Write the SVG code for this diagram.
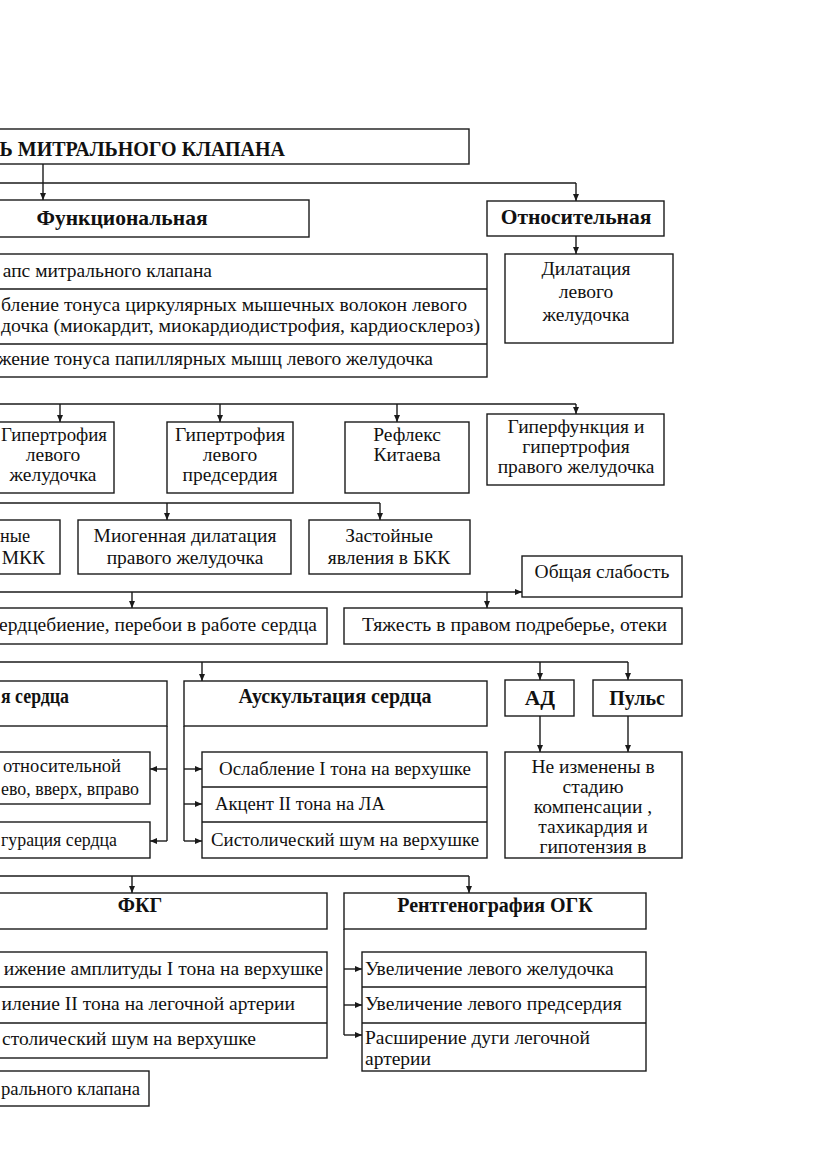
<svg xmlns="http://www.w3.org/2000/svg" width="831" height="1174" viewBox="0 0 831 1174">
<defs>
<style>
.b{fill:#fff;stroke:#1a1a1a;stroke-width:1.4}
.t{font-family:"Liberation Serif","Times New Roman",serif;font-size:19.5px;fill:#111}
.h{font-weight:bold;font-size:20px}
.hb{font-weight:bold;font-size:21.5px}
.c{text-anchor:middle}
.e{text-anchor:end}
.l{fill:none;stroke:#1a1a1a;stroke-width:1.4}
.a{marker-end:url(#ah)}
</style>
<marker id="ah" markerWidth="8" markerHeight="8" refX="7" refY="4" orient="auto" markerUnits="userSpaceOnUse"><path d="M0,1 L7,4 L0,7 z" fill="#1a1a1a"/></marker>
</defs>
<rect width="831" height="1174" fill="#fff"/>

<g id="connectors">
<path class="l a" d="M43,164 V200"/>
<path class="l" d="M0,183 H576"/>
<path class="l a" d="M576,183 V201"/>
<path class="l a" d="M576,236 V254"/>
<path class="l" d="M0,404 H576"/>
<path class="l a" d="M60,404 V422"/>
<path class="l a" d="M220,404 V422"/>
<path class="l a" d="M397,404 V422"/>
<path class="l a" d="M576,404 V414"/>
<path class="l" d="M0,503 H380"/>
<path class="l a" d="M167,503 V520"/>
<path class="l a" d="M380,503 V520"/>
<path class="l a" d="M0,592 H522"/>
<path class="l a" d="M132,592 V608"/>
<path class="l a" d="M487,592 V608"/>
<path class="l" d="M0,662 H628"/>
<path class="l a" d="M202,662 V681"/>
<path class="l a" d="M540,662 V680"/>
<path class="l a" d="M628,662 V680"/>
<path class="l" d="M167,726 V841"/>
<path class="l a" d="M167,769 H150"/>
<path class="l a" d="M167,841 H150"/>
<path class="l" d="M184,726 V841"/>
<path class="l a" d="M184,769 H202"/>
<path class="l a" d="M184,804 H202"/>
<path class="l a" d="M184,841 H202"/>
<path class="l a" d="M540,716 V752"/>
<path class="l a" d="M628,716 V752"/>
<path class="l" d="M0,876 H469"/>
<path class="l a" d="M132,876 V893"/>
<path class="l a" d="M469,876 V893"/>
<path class="l" d="M344,929 V1035"/>
<path class="l a" d="M344,969 H362"/>
<path class="l a" d="M344,1005 H362"/>
<path class="l a" d="M344,1035 H362"/>
</g>

<g id="n-top">
<rect class="b" x="-20" y="129" width="489" height="35"/>
<text class="t h e" x="285" y="156">Ь МИТРАЛЬНОГО КЛАПАНА</text>
</g>
<g id="n-func">
<rect class="b" x="-70" y="200" width="379" height="37"/>
<text class="t hb c" x="122" y="225">Функциональная</text>
</g>
<g id="n-rel">
<rect class="b" x="487" y="201" width="177" height="35"/>
<text class="t hb c" x="576" y="224">Относительная</text>
</g>
<g id="n-dil">
<rect class="b" x="505" y="254" width="168" height="89"/>
<text class="t c" x="586" y="275">Дилатация</text>
<text class="t c" x="586" y="298">левого</text>
<text class="t c" x="586" y="321">желудочка</text>
</g>
<g id="n-func-list">
<rect class="b" x="-20" y="254" width="507" height="123"/>
<path class="l" d="M-20,289 H487 M-20,344 H487"/>
<text class="t e" x="212" y="277">апс митрального клапана</text>
<text class="t" x="1" y="311" textLength="466" lengthAdjust="spacingAndGlyphs">бление тонуса циркулярных мышечных волокон левого</text>
<text class="t" x="1" y="332" textLength="479" lengthAdjust="spacingAndGlyphs">дочка (миокардит, миокардиодистрофия, кардиосклероз)</text>
<text class="t e" x="433" y="365">жение тонуса папиллярных мышц левого желудочка</text>
</g>
<g id="n-glzh">
<rect class="b" x="-12" y="422" width="126" height="71"/>
<text class="t" x="1" y="441" textLength="106" lengthAdjust="spacingAndGlyphs">Гипертрофия</text>
<text class="t c" x="53" y="461">левого</text>
<text class="t c" x="53" y="481">желудочка</text>
</g>
<g id="n-glp">
<rect class="b" x="167" y="422" width="126" height="71"/>
<text class="t c" x="230" y="441">Гипертрофия</text>
<text class="t c" x="230" y="461">левого</text>
<text class="t c" x="230" y="481">предсердия</text>
</g>
<g id="n-kitaev">
<rect class="b" x="345" y="422" width="124" height="71"/>
<text class="t c" x="407" y="441">Рефлекс</text>
<text class="t c" x="407" y="461">Китаева</text>
</g>
<g id="n-gpzh">
<rect class="b" x="487" y="414" width="177" height="71"/>
<text class="t c" x="576" y="433">Гиперфункция и</text>
<text class="t c" x="576" y="453">гипертрофия</text>
<text class="t c" x="576" y="473">правого желудочка</text>
</g>
<g id="n-mkk">
<rect class="b" x="-20" y="520" width="80" height="54"/>
<text class="t" x="0" y="542" textLength="30" lengthAdjust="spacingAndGlyphs">ные</text>
<text class="t e" x="45" y="564">МКК</text>
</g>
<g id="n-miogen">
<rect class="b" x="78" y="520" width="213" height="54"/>
<text class="t c" x="185" y="542">Миогенная дилатация</text>
<text class="t c" x="185" y="564">правого желудочка</text>
</g>
<g id="n-bkk">
<rect class="b" x="309" y="520" width="161" height="54"/>
<text class="t c" x="389" y="542">Застойные</text>
<text class="t c" x="389" y="564">явления в БКК</text>
</g>
<g id="n-weak">
<rect class="b" x="522" y="556" width="160" height="41"/>
<text class="t c" x="602" y="578">Общая слабость</text>
</g>
<g id="n-palp">
<rect class="b" x="-20" y="608" width="347" height="36"/>
<text class="t e" x="317" y="631">ердцебиение, перебои в работе сердца</text>
</g>
<g id="n-heavy">
<rect class="b" x="344" y="608" width="338" height="36"/>
<text class="t" x="362" y="631" textLength="305" lengthAdjust="spacingAndGlyphs">Тяжесть в правом подреберье, отеки</text>
</g>
<g id="n-perc">
<rect class="b" x="-20" y="681" width="187" height="45"/>
<text class="t h" x="1" y="703" textLength="68" lengthAdjust="spacingAndGlyphs">я сердца</text>
</g>
<g id="n-perc1">
<rect class="b" x="-20" y="752" width="170" height="52"/>
<text class="t" x="3" y="772" textLength="118" lengthAdjust="spacingAndGlyphs">относительной</text>
<text class="t" x="1" y="795" textLength="138" lengthAdjust="spacingAndGlyphs">ево, вверх, вправо</text>
</g>
<g id="n-perc2">
<rect class="b" x="-20" y="822" width="170" height="36"/>
<text class="t" x="1" y="846" textLength="116" lengthAdjust="spacingAndGlyphs">гурация сердца</text>
</g>
<g id="n-ausc">
<rect class="b" x="184" y="681" width="303" height="45"/>
<text class="t h c" x="335" y="703">Аускультация сердца</text>
</g>
<g id="n-ausc-list">
<rect class="b" x="202" y="752" width="285" height="106"/>
<path class="l" d="M202,787 H487 M202,822 H487"/>
<text class="t" x="219" y="775" textLength="252" lengthAdjust="spacingAndGlyphs">Ослабление I тона на верхушке</text>
<text class="t" x="215" y="810" textLength="170" lengthAdjust="spacingAndGlyphs">Акцент II тона на ЛА</text>
<text class="t" x="211" y="846" textLength="268" lengthAdjust="spacingAndGlyphs">Систолический шум на верхушке</text>
</g>
<g id="n-ad">
<rect class="b" x="505" y="680" width="69" height="36"/>
<text class="t hb c" x="540" y="705">АД</text>
</g>
<g id="n-pulse">
<rect class="b" x="593" y="680" width="89" height="36"/>
<text class="t h c" x="637" y="705">Пульс</text>
</g>
<g id="n-unchanged">
<rect class="b" x="505" y="752" width="177" height="106"/>
<text class="t c" x="593" y="773">Не изменены в</text>
<text class="t c" x="593" y="793">стадию</text>
<text class="t c" x="593" y="813">компенсации ,</text>
<text class="t c" x="593" y="833">тахикардия и</text>
<text class="t c" x="593" y="853">гипотензия в</text>
</g>
<g id="n-fkg">
<rect class="b" x="-47" y="893" width="374" height="36"/>
<text class="t h c" x="140" y="912">ФКГ</text>
</g>
<g id="n-fkg-list">
<rect class="b" x="-20" y="952" width="347" height="106"/>
<path class="l" d="M-20,987 H327 M-20,1023 H327"/>
<text class="t e" x="323" y="975">ижение амплитуды I тона на верхушке</text>
<text class="t e" x="295" y="1010">иление II тона на легочной артерии</text>
<text class="t e" x="256" y="1045">столический шум на верхушке</text>
</g>
<g id="n-pmk">
<rect class="b" x="-20" y="1071" width="169" height="35"/>
<text class="t" x="1" y="1095" textLength="139" lengthAdjust="spacingAndGlyphs">рального клапана</text>
</g>
<g id="n-xray">
<rect class="b" x="344" y="893" width="302" height="36"/>
<text class="t h c" x="495" y="912">Рентгенография ОГК</text>
</g>
<g id="n-xray-list">
<rect class="b" x="362" y="952" width="284" height="119"/>
<path class="l" d="M362,987 H646 M362,1023 H646"/>
<text class="t" x="365" y="975">Увеличение левого желудочка</text>
<text class="t" x="365" y="1010">Увеличение левого предсердия</text>
<text class="t" x="365" y="1044">Расширение дуги легочной</text>
<text class="t" x="365" y="1065">артерии</text>
</g>
</svg>
